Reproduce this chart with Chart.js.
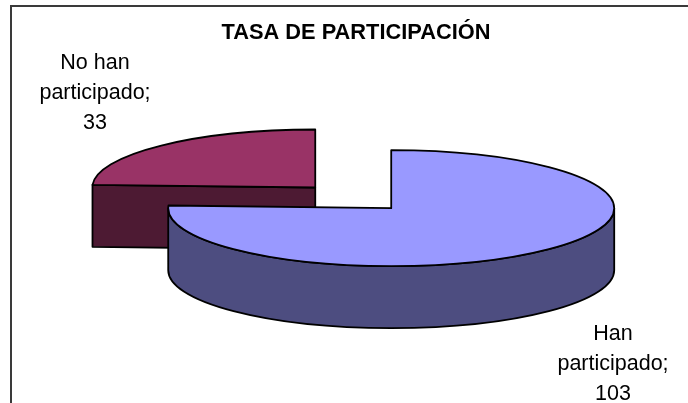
<!DOCTYPE html>
<html lang="es">
<head>
<meta charset="utf-8">
<title>Tasa de participación</title>
<script src="https://cdn.jsdelivr.net/npm/chart.js@4/dist/chart.umd.js"></script>
<style>
   html, body { margin: 0; padding: 0; background: #fff; }
   canvas { display: block; }
</style>
</head>
<body>
<canvas id="chart" width="688" height="403"></canvas>
<script>
const categories = ['Han participado', 'No han participado']
const values = [103, 33]
const topColors = ['#9999ff', '#993366']
const sideColors = ['#4d4d80', '#4d1a33']
const explode = [51, 59]
const labelLines = [['Han', 'participado;', '103'], ['No han', 'participado;', '33']]
const labelCenters = [[613, 334], [95, 63]]

const squash = 0.26
const depth = 62
const fontFamily = '"Liberation Sans", Arial, sans-serif'

// pie geometry comes from the arc elements, only flattened and extruded here
function centerOf(arc) {
   const mid = (arc.startAngle + arc.endAngle) / 2
   const d = arc.options.offset
   return { x: arc.x + Math.cos(mid) * d, y: arc.y + Math.sin(mid) * d * squash }
}

function slicePath(ctx, arc) {
   const c = centerOf(arc)
   const r = arc.outerRadius
   ctx.beginPath()
   ctx.moveTo(c.x, c.y)
   ctx.ellipse(c.x, c.y, r, r * squash, 0, arc.startAngle, arc.endAngle)
   ctx.closePath()
}

function outerWall(ctx, arc, from, to) {
   const c = centerOf(arc)
   const r = arc.outerRadius
   const ry = r * squash
   ctx.beginPath()
   ctx.ellipse(c.x, c.y, r, ry, 0, from, to)
   ctx.lineTo(c.x + Math.cos(to) * r, c.y + Math.sin(to) * ry + depth)
   ctx.ellipse(c.x, c.y + depth, r, ry, 0, to, from, true)
   ctx.closePath()
}

function cutFace(ctx, arc, angle) {
   const c = centerOf(arc)
   const r = arc.outerRadius
   const px = c.x + Math.cos(angle) * r
   const py = c.y + Math.sin(angle) * r * squash
   ctx.beginPath()
   ctx.moveTo(c.x, c.y)
   ctx.lineTo(px, py)
   ctx.lineTo(px, py + depth)
   ctx.lineTo(c.x, c.y + depth)
   ctx.closePath()
}

function paint(ctx, fill) {
   ctx.fillStyle = fill
   ctx.fill()
   ctx.strokeStyle = '#000'
   ctx.lineWidth = 1.8
   ctx.lineJoin = 'round'
   ctx.stroke()
}

const pie3d = {
   id: 'pie3d',
   beforeDraw(chart) {
      const ctx = chart.ctx
      ctx.save()
      // frame runs off the right and bottom of the picture
      ctx.strokeStyle = '#3a3a3a'
      ctx.lineWidth = 2
      ctx.strokeRect(11, 6, 700, 420)
      ctx.restore()
   },
   beforeDatasetDraw(chart, args) {
      const ctx = chart.ctx
      const arcs = args.meta.data
      ctx.save()
      // back slice first so the front one overlaps it
      cutFace(ctx, arcs[1], arcs[1].startAngle)
      paint(ctx, sideColors[1])
      slicePath(ctx, arcs[1])
      paint(ctx, arcs[1].options.backgroundColor)
      outerWall(ctx, arcs[0], 0, Math.PI)
      paint(ctx, sideColors[0])
      slicePath(ctx, arcs[0])
      paint(ctx, arcs[0].options.backgroundColor)
      ctx.restore()
      return false
   },
   afterDatasetsDraw(chart) {
      const ctx = chart.ctx
      ctx.save()
      ctx.fillStyle = '#000'
      ctx.font = '21.5px ' + fontFamily
      ctx.textAlign = 'center'
      ctx.textBaseline = 'middle'
      labelLines.forEach((lines, i) => {
         lines.forEach((line, j) => {
            ctx.fillText(line, labelCenters[i][0], labelCenters[i][1] + j * 30)
         })
      })
      ctx.restore()
   }
}

new Chart(document.getElementById('chart'), {
   type: 'pie',
   data: {
      labels: categories,
      datasets: [{
         data: values,
         backgroundColor: topColors,
         offset: explode,
         borderWidth: 0,
         radius: 223
      }]
   },
   options: {
      responsive: false,
      animation: false,
      layout: { padding: { left: 24, bottom: 52 } },
      plugins: {
         legend: { display: false },
         tooltip: { enabled: false },
         title: {
            display: true,
            text: 'TASA DE PARTICIPACIÓN',
            color: '#000',
            padding: { top: 20, bottom: 0 },
            font: { family: fontFamily, size: 21.8, weight: 'bold' }
         }
      }
   },
   plugins: [pie3d]
})
</script>
</body>
</html>
